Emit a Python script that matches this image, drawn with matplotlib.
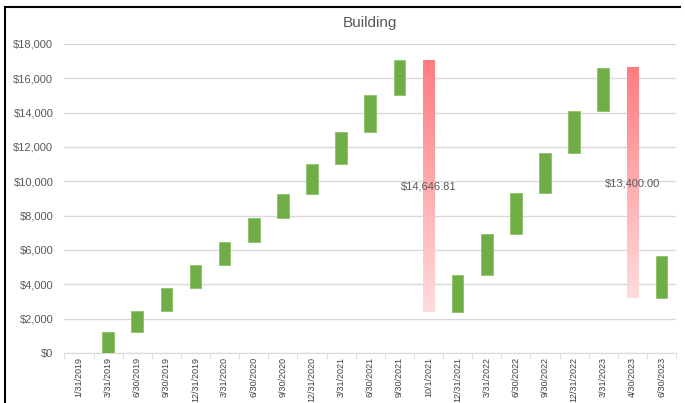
import matplotlib.pyplot as plt
import numpy as np
from matplotlib.colors import LinearSegmentedColormap
from matplotlib.lines import Line2D

dates = ["1/31/2019", "3/31/2019", "6/30/2019", "9/30/2019", "12/31/2019",
         "3/31/2020", "6/30/2020", "9/30/2020", "12/31/2020", "3/31/2021",
         "6/30/2021", "9/30/2021", "10/1/2021", "12/31/2021", "3/31/2022",
         "6/30/2022", "9/30/2022", "12/31/2022", "3/31/2023", "4/30/2023",
         "6/30/2023"]
# change per period (negative = write-down)
changes = [0, 1220, 1240, 1330, 1340, 1340, 1400, 1400, 1740, 1890, 2110,
           2030, -14646.81, 2150, 2390, 2370, 2370, 2430, 2490, -13400.00,
           2450]
yticks = [0, 2000, 4000, 6000, 8000, 10000, 12000, 14000, 16000, 18000]

plt.rcParams['font.family'] = ['Liberation Sans', 'DejaVu Sans']
grey = '#595959'
width = 0.4

fig = plt.figure(figsize=(6.85, 4.03), dpi=100)
ax = fig.add_axes([0.094, 0.124, 0.893, 0.767])

# chart frame: top and left edges only are visible in the crop
W, H = 685, 403
fig.lines.append(Line2D([5 / W, 680 / W], [1 - 7 / H, 1 - 7 / H],
                        transform=fig.transFigure, color='black', linewidth=1.5))
fig.lines.append(Line2D([5 / W, 5 / W], [0, 1 - 7 / H],
                        transform=fig.transFigure, color='black', linewidth=1.5))

red_cmap = LinearSegmentedColormap.from_list('drop', ['#FFDCDD', '#FF7C80'])
grad = np.linspace(0, 1, 256).reshape(-1, 1)

total = 0
for i, (d, c) in enumerate(zip(dates, changes)):
    start = total
    total += c
    if c > 0:
        ax.bar(i, c, bottom=start, width=width, color='#70AD47',
               edgecolor='#8CC168', linewidth=0.6, zorder=3)
    elif c < 0:
        ax.imshow(grad, cmap=red_cmap, origin='lower', aspect='auto',
                  extent=[i - width / 2, i + width / 2, total, start], zorder=3)
        ax.text(i, (start + total) / 2, f"${-c:,.2f}", ha='center', va='center',
                fontsize=8, color=grey, zorder=4)

ax.set_xlim(-0.5, len(dates) - 0.5)
ax.set_ylim(0, 18000)
ax.set_yticks(yticks)
ax.set_yticklabels([f"${v:,}" for v in yticks], color=grey, fontsize=8)
ax.set_xticks(range(len(dates)))
ax.set_xticklabels(dates, rotation=90, color='#404040', fontsize=6.5,
                   family=['Liberation Sans Narrow', 'Liberation Sans'])
ax.set_xticks(np.arange(-0.5, len(dates), 1), minor=True)
ax.tick_params(axis='x', which='major', length=0, pad=3)
ax.tick_params(axis='x', which='minor', length=4, color='#D9D9D9')
ax.tick_params(axis='y', length=0, pad=8)
ax.grid(axis='y', color='#D9D9D9', linewidth=1, zorder=0)
for s in ['top', 'right', 'left']:
    ax.spines[s].set_visible(False)
ax.spines['bottom'].set_color('#D9D9D9')
ax.set_title("Building", fontsize=11, color=grey, pad=12)

fig.savefig("out.png")
